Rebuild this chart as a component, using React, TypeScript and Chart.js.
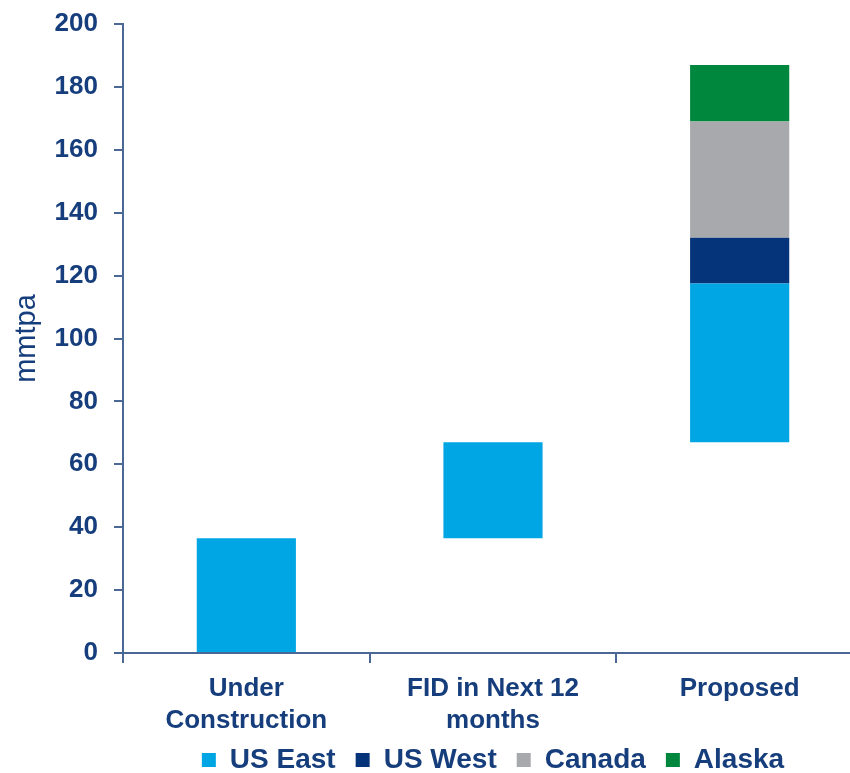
import React, { useEffect, useRef } from "react";
import { Chart, registerables } from "chart.js";

Chart.register(...registerables);

const categories: (string | string[])[] = [["Under", "Construction"], ["FID in Next 12", "months"], "Proposed"];
const seriesNames = ["US East", "US West", "Canada", "Alaska"];
const usEastRanges: ([number, number] | null)[] = [[0, 36.5], [36.5, 67], [67, 117.5]];
const usWestRanges: ([number, number] | null)[] = [null, null, [117.5, 132]];
const canadaRanges: ([number, number] | null)[] = [null, null, [132, 169]];
const alaskaRanges: ([number, number] | null)[] = [null, null, [169, 187]];
const seriesColors = ["#00A6E3", "#06347A", "#A8A9AD", "#00873E"];
const yTicks = { min: 0, max: 200, step: 20 };

const TEXT = "#173E7C";
const AXIS = "#4A6796";
const FONT = "'Liberation Sans', Arial, sans-serif";

export default function App() {
  const ref = useRef<HTMLCanvasElement>(null);
  useEffect(() => {
    if (!ref.current) return;
    const allRanges = [usEastRanges, usWestRanges, canadaRanges, alaskaRanges];
    const chart = new Chart(ref.current, {
      type: "bar",
      data: {
        labels: categories,
        datasets: seriesNames.map((name, i) => ({
          label: name,
          data: allRanges[i] as any,
          backgroundColor: seriesColors[i],
          borderWidth: 0,
          grouped: false,
          barPercentage: 1,
          categoryPercentage: 0.402,
          skipNull: true,
        })),
      },
      options: {
        animation: false,
        responsive: false,
        layout: { padding: { left: 0, top: 24, right: 3, bottom: 2 } },
        plugins: {
          tooltip: { enabled: false },
          legend: {
            position: "bottom",
            fullSize: false,
            labels: {
              color: TEXT,
              font: { family: FONT, size: 28, weight: "bold" },
              boxWidth: 14,
              boxHeight: 14,
              padding: 20,
            },
          },
        },
        scales: {
          x: {
            afterFit: (s: any) => {
              s.height = s.height - 21;
              s._computeLabelArea = () => undefined;
            },
            grid: {
              offset: true,
              drawOnChartArea: false,
              drawTicks: true,
              tickLength: 10,
              color: AXIS,
              lineWidth: 2,
            },
            border: { color: AXIS, width: 2 },
            ticks: {
              color: TEXT,
              font: { family: FONT, size: 26, weight: "bold", lineHeight: 1.23 },
              padding: 10,
              maxRotation: 0,
              autoSkip: false,
            },
          },
          y: {
            min: yTicks.min,
            max: yTicks.max,
            afterFit: (s: any) => {
              s.width = 123;
              s.paddingTop = 0;
              s.paddingBottom = 0;
            },
            grid: {
              drawOnChartArea: false,
              drawTicks: true,
              tickLength: 9,
              color: AXIS,
              lineWidth: 2,
            },
            border: { color: AXIS, width: 2 },
            ticks: {
              stepSize: yTicks.step,
              color: TEXT,
              font: { family: FONT, size: 26, weight: "bold" },
              padding: 16,
            },
            title: {
              display: true,
              text: "mmtpa",
              color: TEXT,
              font: { family: FONT, size: 29, weight: "normal", lineHeight: 1.2 },
              padding: { top: 10, bottom: 0 },
            },
          },
        },
      },
    });
    return () => chart.destroy();
  }, []);
  return (
    <div style={{ position: "fixed", left: 0, top: 0, width: 850, height: 773, overflow: "hidden", background: "#fff" }}>
      <canvas ref={ref} width={866} height={786} style={{ display: "block" }} />
    </div>
  );
}
